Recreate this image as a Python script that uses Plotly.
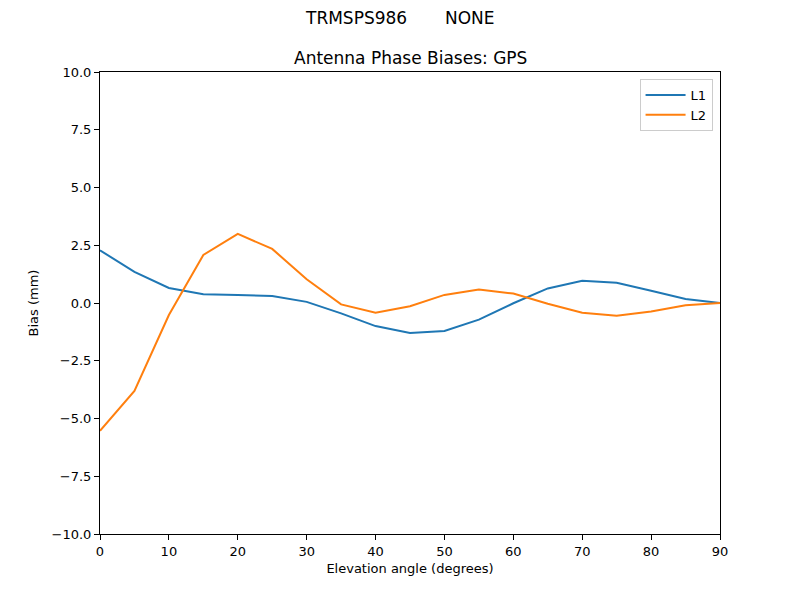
import plotly.graph_objects as go

elev = [0, 5, 10, 15, 20, 25, 30, 35, 40, 45, 50, 55, 60, 65, 70, 75, 80, 85, 90]
l1 = [2.28, 1.35, 0.65, 0.38, 0.35, 0.30, 0.05, -0.45, -1.0, -1.3, -1.21, -0.72, -0.01, 0.63, 0.96, 0.88, 0.53, 0.17, 0.0]
l2 = [-5.53, -3.81, -0.52, 2.08, 2.99, 2.34, 1.03, -0.06, -0.42, -0.14, 0.35, 0.58, 0.41, -0.03, -0.42, -0.55, -0.37, -0.1, 0.0]
yticks = [-10.0, -7.5, -5.0, -2.5, 0.0, 2.5, 5.0, 7.5, 10.0]
xticks = [0, 10, 20, 30, 40, 50, 60, 70, 80, 90]

font = "DejaVu Sans"
fig = go.Figure()
fig.add_trace(go.Scatter(x=elev, y=l1, mode="lines", name="L1", line=dict(color="#1f77b4", width=2)))
fig.add_trace(go.Scatter(x=elev, y=l2, mode="lines", name="L2", line=dict(color="#ff7f0e", width=2)))

axis_common = dict(showline=True, linecolor="black", linewidth=1, mirror=True, ticks="outside",
                   ticklen=5, tickcolor="black", showgrid=False, zeroline=False,
                   tickfont=dict(family=font, size=13, color="black"))
fig.update_xaxes(range=[0, 90], tickvals=xticks, ticktext=[str(v) for v in xticks],
                 title=dict(text="Elevation angle (degrees)", font=dict(family=font, size=13, color="black"), standoff=6),
                 **axis_common)
fig.update_yaxes(range=[-10, 10], tickvals=yticks, ticktext=["%.1f" % v if v >= 0 else "\u2212%.1f" % -v for v in yticks],
                 title=dict(text="Bias (mm)", font=dict(family=font, size=13, color="black"), standoff=10),
                 **axis_common)

fig.update_layout(
    width=800, height=600,
    margin=dict(l=92, r=88, t=64, b=74),
    plot_bgcolor="white", paper_bgcolor="white",
    font=dict(family=font, size=13, color="black"),
    showlegend=True,
    legend=dict(x=0.988, y=0.985, xanchor="right", yanchor="top", bgcolor="rgba(255,255,255,0.8)",
                bordercolor="#cccccc", borderwidth=1, font=dict(family=font, size=13, color="black"),
                itemwidth=40, tracegroupgap=0),
    annotations=[
        dict(text="TRMSPS986       NONE", x=(400 - 100) / 620.0, y=1 + 54 / 462.0, xref="paper", yref="paper",
             showarrow=False, yanchor="middle", font=dict(family=font, size=17, color="black")),
        dict(text="Antenna Phase Biases: GPS", x=0.5, y=1.0, xref="paper", yref="paper", showarrow=False,
             yanchor="bottom", yshift=2, font=dict(family=font, size=17, color="black")),
    ],
)
fig.write_html("out.html")
